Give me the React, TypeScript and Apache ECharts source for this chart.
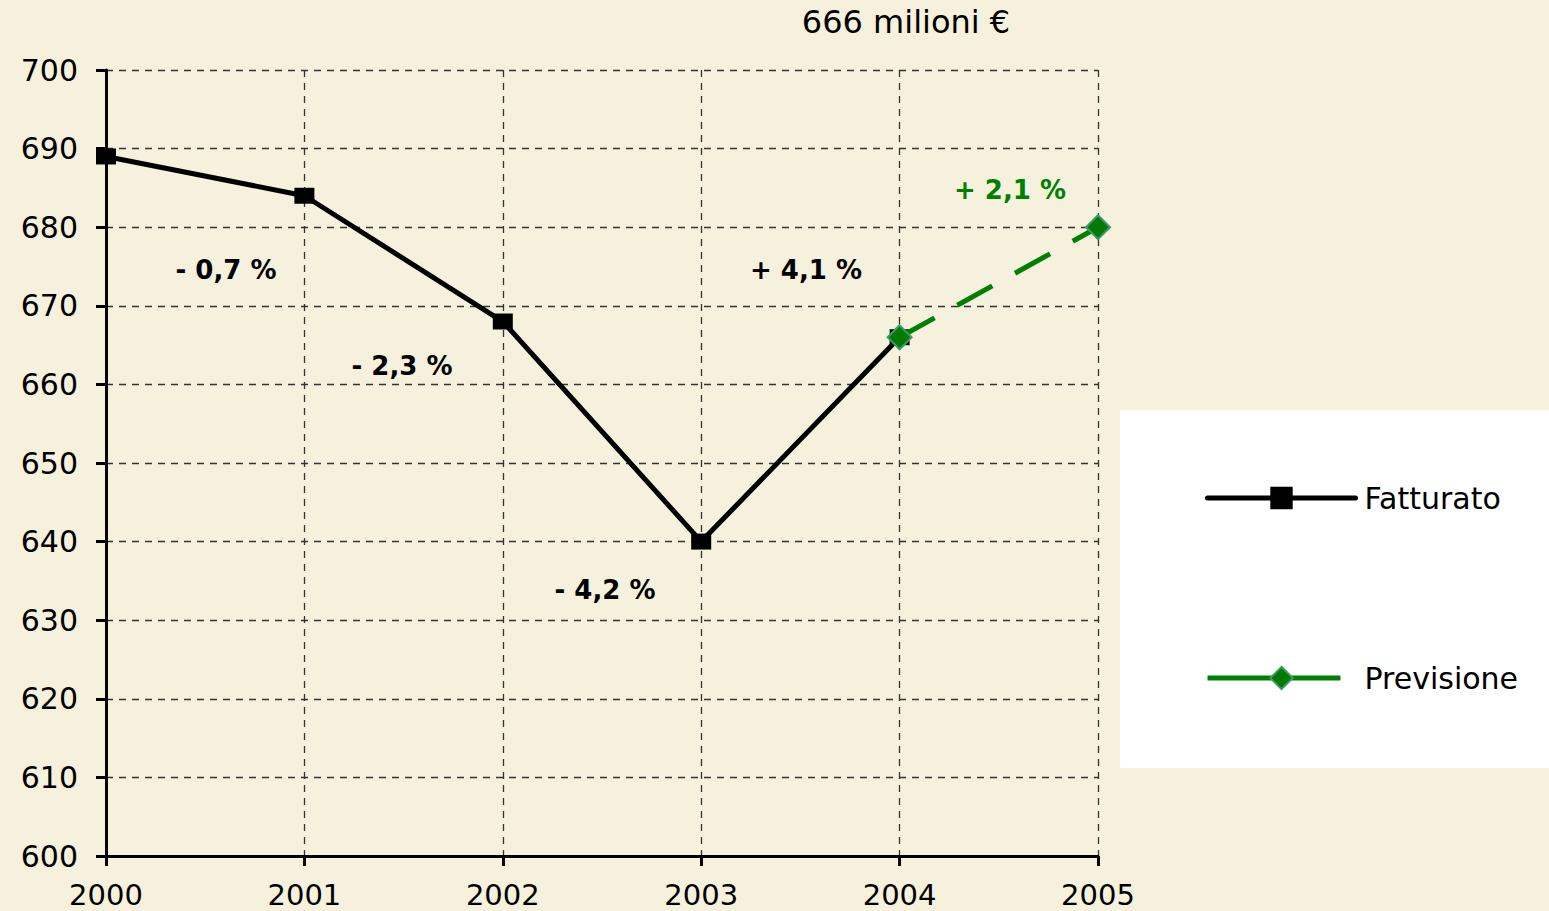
import React, { useEffect, useRef } from "react";
import * as echarts from "echarts";

const categories = ["2000", "2001", "2002", "2003", "2004", "2005"];
const fatturato = [689, 684, 668, 640, 666, null];
const previsione = [null, null, null, null, 666, 680];
const yTicks = { min: 600, max: 700, interval: 10 };
const notes = [
  { text: "- 0,7 %", x: 226, y: 270, color: "#000000" },
  { text: "- 2,3 %", x: 402, y: 366, color: "#000000" },
  { text: "- 4,2 %", x: 605, y: 590, color: "#000000" },
  { text: "+ 4,1 %", x: 806, y: 270, color: "#000000" },
  { text: "+ 2,1 %", x: 1010, y: 190, color: "#008000" },
];
const title = "666 milioni €";

const FONT = "'DejaVu Sans', 'Liberation Sans', Arial, sans-serif";

export default function App() {
  const ref = useRef<HTMLDivElement>(null);
  useEffect(() => {
    if (!ref.current) return;
    const chart = echarts.init(ref.current, undefined, { renderer: "svg" });
    chart.setOption({
      animation: false,
      backgroundColor: "#f6f1dc",
      textStyle: { fontFamily: FONT },
      grid: { left: 106, right: 451, top: 70, bottom: 55, containLabel: false },
      graphic: [
        {
          type: "rect",
          z: -1,
          shape: { x: 1120, y: 410, width: 429, height: 358 },
          style: { fill: "#ffffff" },
        },
        {
          type: "text",
          x: 906,
          y: 22,
          style: {
            text: title,
            font: `32px ${FONT}`,
            fill: "#000",
            align: "center",
            verticalAlign: "middle",
          },
        },
        ...notes.map((n) => ({
          type: "text",
          x: n.x,
          y: n.y,
          style: {
            text: n.text,
            font: `bold 26px ${FONT}`,
            fill: n.color,
            align: "center",
            verticalAlign: "middle",
          },
        })),
      ],
      legend: {
        orient: "vertical",
        left: 1200,
        top: 478,
        itemWidth: 148,
        itemHeight: 28,
        itemGap: 150,
        textStyle: { fontSize: 30, color: "#000", fontFamily: FONT, padding: [0, 0, 0, 4] },
        data: [
          { name: "Fatturato", lineStyle: { width: 5, type: "solid", cap: "round" } },
          { name: "Previsione", lineStyle: { width: 5, type: [133, 40] } },
        ],
      },
      xAxis: {
        type: "category",
        data: categories,
        boundaryGap: false,
        axisLine: { lineStyle: { color: "#000", width: 3 } },
        axisTick: { show: true, length: 10, lineStyle: { color: "#000", width: 3 } },
        axisLabel: { fontSize: 29, color: "#000", margin: 24, fontFamily: FONT },
        splitLine: { show: true, lineStyle: { color: "#333", type: [7, 6], width: 1.3 } },
      },
      yAxis: {
        type: "value",
        min: yTicks.min,
        max: yTicks.max,
        interval: yTicks.interval,
        axisLine: { show: true, lineStyle: { color: "#000", width: 3 } },
        axisTick: { show: true, length: 10, lineStyle: { color: "#000", width: 3 } },
        axisLabel: { fontSize: 30, color: "#000", margin: 28, fontFamily: FONT },
        splitLine: { show: true, lineStyle: { color: "#333", type: [7, 6], width: 1.3 } },
      },
      series: [
        {
          name: "Fatturato",
          type: "line",
          data: fatturato,
          symbol: "rect",
          symbolSize: [20, 16],
          lineStyle: { color: "#000", width: 5 },
          itemStyle: { color: "#000" },
          z: 2,
        },
        {
          name: "Previsione",
          type: "line",
          data: previsione,
          symbol: "diamond",
          symbolSize: 24,
          lineStyle: { color: "#008000", width: 5, type: [40, 26] },
          itemStyle: { color: "#007a00", borderColor: "#3a9a6a", borderWidth: 2 },
          z: 3,
        },
      ],
    });
    return () => chart.dispose();
  }, []);
  return <div ref={ref} style={{ width: 1549, height: 911, position: "absolute", left: 0, top: 0 }} />;
}
